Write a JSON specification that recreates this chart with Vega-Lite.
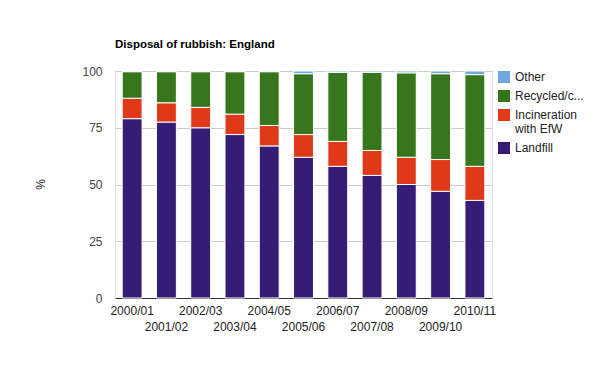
{
  "$schema": "https://vega.github.io/schema/vega-lite/v6.json",
  "width": 377,
  "height": 227,
  "autosize": {"type": "none"},
  "padding": {"left": 115, "top": 71, "right": 108, "bottom": 73},
  "background": "white",
  "title": {
    "text": "Disposal of rubbish: England",
    "anchor": "start",
    "frame": "group",
    "font": "Arial, Liberation Sans",
    "fontSize": 11.5,
    "fontWeight": "bold",
    "color": "#000000",
    "offset": 15
  },
  "data": {
    "values": [
      {"year": "2000/01", "type": "Landfill", "ord": 1, "pct": 79},
      {"year": "2000/01", "type": "Incineration with EfW", "ord": 2, "pct": 9},
      {"year": "2000/01", "type": "Recycled/composted", "ord": 3, "pct": 11.7},
      {"year": "2000/01", "type": "Other", "ord": 4, "pct": 0.3},
      {"year": "2001/02", "type": "Landfill", "ord": 1, "pct": 77.5},
      {"year": "2001/02", "type": "Incineration with EfW", "ord": 2, "pct": 8.5},
      {"year": "2001/02", "type": "Recycled/composted", "ord": 3, "pct": 13.7},
      {"year": "2001/02", "type": "Other", "ord": 4, "pct": 0.3},
      {"year": "2002/03", "type": "Landfill", "ord": 1, "pct": 75},
      {"year": "2002/03", "type": "Incineration with EfW", "ord": 2, "pct": 9},
      {"year": "2002/03", "type": "Recycled/composted", "ord": 3, "pct": 15.7},
      {"year": "2002/03", "type": "Other", "ord": 4, "pct": 0.3},
      {"year": "2003/04", "type": "Landfill", "ord": 1, "pct": 72},
      {"year": "2003/04", "type": "Incineration with EfW", "ord": 2, "pct": 9},
      {"year": "2003/04", "type": "Recycled/composted", "ord": 3, "pct": 18.7},
      {"year": "2003/04", "type": "Other", "ord": 4, "pct": 0.3},
      {"year": "2004/05", "type": "Landfill", "ord": 1, "pct": 67},
      {"year": "2004/05", "type": "Incineration with EfW", "ord": 2, "pct": 9},
      {"year": "2004/05", "type": "Recycled/composted", "ord": 3, "pct": 23.7},
      {"year": "2004/05", "type": "Other", "ord": 4, "pct": 0.3},
      {"year": "2005/06", "type": "Landfill", "ord": 1, "pct": 62},
      {"year": "2005/06", "type": "Incineration with EfW", "ord": 2, "pct": 10},
      {"year": "2005/06", "type": "Recycled/composted", "ord": 3, "pct": 26.8},
      {"year": "2005/06", "type": "Other", "ord": 4, "pct": 1.2},
      {"year": "2006/07", "type": "Landfill", "ord": 1, "pct": 58},
      {"year": "2006/07", "type": "Incineration with EfW", "ord": 2, "pct": 11},
      {"year": "2006/07", "type": "Recycled/composted", "ord": 3, "pct": 30.4},
      {"year": "2006/07", "type": "Other", "ord": 4, "pct": 0.6},
      {"year": "2007/08", "type": "Landfill", "ord": 1, "pct": 54},
      {"year": "2007/08", "type": "Incineration with EfW", "ord": 2, "pct": 11},
      {"year": "2007/08", "type": "Recycled/composted", "ord": 3, "pct": 34.4},
      {"year": "2007/08", "type": "Other", "ord": 4, "pct": 0.6},
      {"year": "2008/09", "type": "Landfill", "ord": 1, "pct": 50},
      {"year": "2008/09", "type": "Incineration with EfW", "ord": 2, "pct": 12},
      {"year": "2008/09", "type": "Recycled/composted", "ord": 3, "pct": 37.2},
      {"year": "2008/09", "type": "Other", "ord": 4, "pct": 0.8},
      {"year": "2009/10", "type": "Landfill", "ord": 1, "pct": 47},
      {"year": "2009/10", "type": "Incineration with EfW", "ord": 2, "pct": 14},
      {"year": "2009/10", "type": "Recycled/composted", "ord": 3, "pct": 37.8},
      {"year": "2009/10", "type": "Other", "ord": 4, "pct": 1.2},
      {"year": "2010/11", "type": "Landfill", "ord": 1, "pct": 43},
      {"year": "2010/11", "type": "Incineration with EfW", "ord": 2, "pct": 15},
      {"year": "2010/11", "type": "Recycled/composted", "ord": 3, "pct": 40.4},
      {"year": "2010/11", "type": "Other", "ord": 4, "pct": 1.6}
    ]
  },
  "mark": {"type": "bar", "stroke": "white", "strokeWidth": 1},
  "encoding": {
    "x": {
      "field": "year",
      "type": "nominal",
      "sort": null,
      "scale": {"paddingInner": 0.42, "paddingOuter": 0.21},
      "axis": {
        "title": null,
        "labelAngle": 0,
        "labelFont": "Arial, Liberation Sans",
        "labelFontSize": 12,
        "labelColor": "#222222",
        "labelPadding": 7,
        "labelLineHeight": 16,
        "labelBaseline": "top",
        "labelOverlap": false,
        "labelExpr": "round(datum.index * 10) % 2 == 1 ? ['', datum.label] : datum.label",
        "ticks": false,
        "domainColor": "#333333",
        "domainWidth": 1,
        "grid": false
      }
    },
    "y": {
      "field": "pct",
      "type": "quantitative",
      "stack": "zero",
      "scale": {"domain": [0, 100], "nice": false},
      "axis": {
        "title": "%",
        "titleFont": "Arial, Liberation Sans",
        "titleFontSize": 12,
        "titleFontWeight": "normal",
        "titleColor": "#222222",
        "titleX": -75,
        "titleY": 113,
        "titleAngle": -90,
        "titleAlign": "center",
        "titleBaseline": "middle",
        "values": [0, 25, 50, 75, 100],
        "labelFont": "Arial, Liberation Sans",
        "labelFontSize": 12,
        "labelColor": "#444444",
        "labelPadding": 13,
        "ticks": false,
        "domain": false,
        "gridColor": "#cccccc",
        "gridWidth": 1
      }
    },
    "color": {
      "field": "type",
      "type": "nominal",
      "scale": {
        "domain": ["Other", "Recycled/composted", "Incineration with EfW", "Landfill"],
        "range": ["#6fa8dc", "#38761d", "#e0391a", "#351c75"]
      },
      "legend": {
        "title": null,
        "orient": "none",
        "legendX": 383,
        "legendY": 0,
        "symbolType": "square",
        "symbolSize": 144,
        "symbolStrokeWidth": 0,
        "labelFont": "Arial, Liberation Sans",
        "labelFontSize": 12,
        "labelColor": "#222222",
        "labelOffset": 5,
        "rowPadding": 7,
        "labelLineHeight": 15,
        "labelExpr": "datum.label == 'Incineration with EfW' ? ['Incineration', 'with EfW'] : datum.label == 'Recycled/composted' ? 'Recycled/c...' : datum.label"
      }
    },
    "order": {"field": "ord", "type": "quantitative"}
  }
}
